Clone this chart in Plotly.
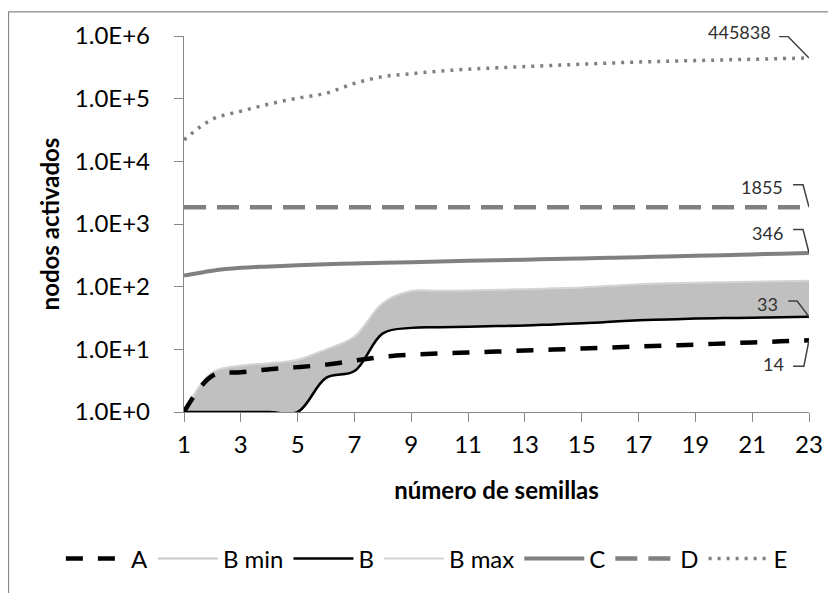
import math
import plotly.graph_objects as go

x_vals = list(range(1, 24))
tick_x = [1, 3, 5, 7, 9, 11, 13, 15, 17, 19, 21, 23]
tick_y_vals = [1, 10, 100, 1000, 10000, 100000, 1000000]
tick_y_text = ["1.0E+0", "1.0E+1", "1.0E+2", "1.0E+3", "1.0E+4", "1.0E+5", "1.0E+6"]

series_A = [1, 3.8, 4.3, 4.8, 5.2, 5.7, 6.6, 7.6, 8.2, 8.6, 8.9, 9.2, 9.6, 9.9, 10.3, 10.7, 11.1, 11.5, 11.9, 12.4, 12.9, 13.4, 14]
series_B_min = [1, 1, 1, 1, 1, 3.5, 4.5, 18, 22, 22.5, 23, 23.5, 24, 25, 26, 27.5, 29, 30, 31, 31.5, 32, 32.5, 33]
series_B = [1, 1, 1, 1, 1, 3.5, 4.5, 18, 22, 22.5, 23, 23.5, 24, 25, 26, 27.5, 29, 30, 31, 31.5, 32, 32.5, 33]
series_B_max = [1, 4.3, 5.5, 6.0, 6.8, 10, 16, 55, 85, 86, 87, 89, 91, 94, 97, 103, 109, 113, 116, 118, 120, 122, 124]
series_C = [150, 180, 200, 210, 220, 228, 234, 240, 246, 252, 258, 264, 270, 276, 282, 289, 296, 303, 310, 318, 327, 336, 346]
series_D = [1855, 1855, 1855, 1855, 1855, 1855, 1855, 1855, 1855, 1855, 1855, 1855, 1855, 1855, 1855, 1855, 1855, 1855, 1855, 1855, 1855, 1855, 1855]
series_E = [22000, 47000, 63000, 82000, 102000, 122000, 175000, 225000, 250000, 275000, 295000, 310000, 325000, 340000, 355000, 370000, 385000, 395000, 405000, 415000, 425000, 435000, 445838]

end_labels = ["445838", "1855", "346", "33", "14"]

FONT = "Lato"
fig = go.Figure()

common = dict(x=x_vals, mode="lines", line_shape="spline")

# shaded band between B min and B max (no legend entry of its own)
fig.add_trace(go.Scatter(y=series_B_min, showlegend=False, hoverinfo="skip",
                         line=dict(color="rgba(0,0,0,0)", width=0), **common))
fig.add_trace(go.Scatter(y=series_B_max, showlegend=False, hoverinfo="skip", fill="tonexty",
                         fillcolor="#c0c0c0", line=dict(color="rgba(0,0,0,0)", width=0), **common))

fig.add_trace(go.Scatter(y=series_B_min, name="B min", legendrank=2,
                         line=dict(color="#c8c8c8", width=2), **common))
fig.add_trace(go.Scatter(y=series_B_max, name="B max", legendrank=4,
                         line=dict(color="#d4d4d4", width=2), **common))
fig.add_trace(go.Scatter(y=series_B, name="B", legendrank=3,
                         line=dict(color="#000000", width=2.5), **common))
fig.add_trace(go.Scatter(y=series_A, name="A", legendrank=1,
                         line=dict(color="#000000", width=4.5, dash="17px,15px"), **common))
fig.add_trace(go.Scatter(y=series_C, name="C", legendrank=5,
                         line=dict(color="#808080", width=4), **common))
fig.add_trace(go.Scatter(y=series_D, name="D", legendrank=6,
                         line=dict(color="#808080", width=4.5, dash="22px,11px"), **common))
fig.add_trace(go.Scatter(y=series_E, name="E", legendrank=7,
                         line=dict(color="#808080", width=3.5, dash="3px,6px"), **common))

# end-value labels with elbow leader lines
last = len(x_vals) - 1
ends = [series_E[last], series_D[last], series_C[last], series_B[last], series_A[last]]
elbow_factor = [2.2, 2.27, 2.36, 1.79, 0.382]
elbow_x = [22.26, 22.79, 22.79, 22.58, 22.82]
start_x = [21.95, 22.44, 22.44, 22.27, 22.44]
text_x = [21.72, 22.16, 22.16, 21.98, 22.2]
text_shift = [5, -2, -3, -3, 2]
for lab, v, f, ex, sx, tx, ts in zip(end_labels, ends, elbow_factor, elbow_x, start_x, text_x, text_shift):
    ey = v * f
    fig.add_shape(type="path",
                  path=f"M {sx} {ey} L {ex} {ey} L {x_vals[last]} {v}",
                  xref="x", yref="y", line=dict(color="#404040", width=1.5))
    fig.add_annotation(x=tx, y=math.log10(ey), xref="x", yref="y", text=lab,
                       showarrow=False, xanchor="right", yanchor="middle", yshift=ts,
                       font=dict(family=FONT, size=18, color="#303030"))

# outer chart-area border
fig.add_shape(type="rect", xref="paper", yref="paper",
              x0=-0.2808, x1=1.08, y0=-0.55, y1=1.064,
              line=dict(color="#868686", width=1.2), layer="below")

fig.update_layout(
    width=836, height=593,
    margin=dict(l=176, r=35, t=25, b=189),
    paper_bgcolor="white", plot_bgcolor="white",
    font=dict(family=FONT, size=24, color="#000000"),
    showlegend=True,
    legend=dict(orientation="h", xref="paper", yref="paper",
                x=-0.197, y=-0.3905, xanchor="left", yanchor="middle",
                traceorder="normal", itemwidth=60,
                font=dict(family=FONT, size=24, color="#000000"),
                tracegroupgap=0, bgcolor="rgba(0,0,0,0)"),
    xaxis=dict(range=[1, 23], tickmode="array", tickvals=tick_x,
               showgrid=False, zeroline=False, showline=True, linecolor="#868686", linewidth=1.3,
               ticks="outside", ticklen=9, tickcolor="#868686", ticklabelstandoff=2,
               tickfont=dict(family=FONT, size=24, color="#000000"),
               title=dict(text="<b>número de semillas</b>", standoff=25,
                          font=dict(family=FONT, size=24, color="#000000"))),
    yaxis=dict(type="log", range=[0, 6], tickmode="array", tickvals=tick_y_vals, ticktext=tick_y_text,
               showgrid=False, zeroline=False, showline=True, linecolor="#868686", linewidth=1.3,
               ticks="outside", ticklen=9, tickcolor="#868686", ticklabelstandoff=19,
               tickfont=dict(family=FONT, size=24, color="#000000"),
               title=dict(text="<b>nodos activados</b>", standoff=8,
                          font=dict(family=FONT, size=24, color="#000000"))),
)

fig.write_html("out.html")
